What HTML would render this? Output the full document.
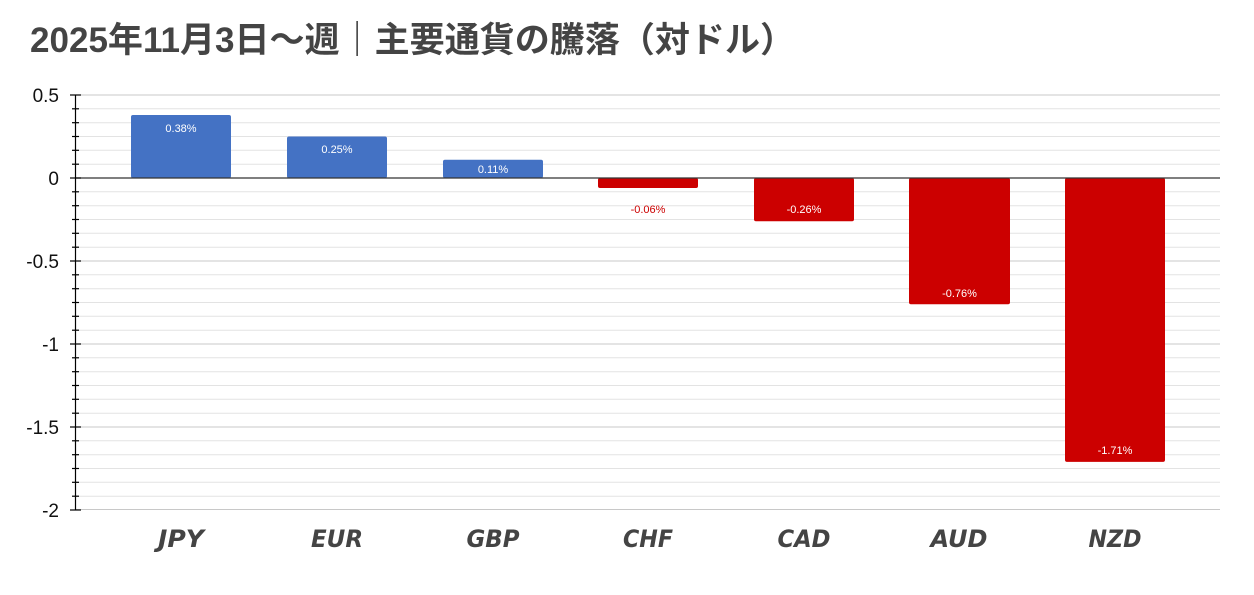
<!DOCTYPE html>
<html><head><meta charset="utf-8"><style>body{margin:0;background:#fff}svg{display:block}</style></head>
<body>
<svg width="1254" height="595" xmlns="http://www.w3.org/2000/svg" font-family="Liberation Sans, Noto Sans CJK JP, sans-serif">
<rect width="1254" height="595" fill="#fff"/>
<text x="30" y="52" font-size="35" font-weight="bold" fill="#444" textLength="765" lengthAdjust="spacingAndGlyphs" font-family="Liberation Sans, Noto Sans CJK JP, sans-serif">2025年11月3日～週｜主要通貨の騰落（対ドル）</text>
<g stroke="#e3e3e3" stroke-width="1">
<line x1="76" x2="1220" y1="108.8" y2="108.8"/><line x1="76" x2="1220" y1="122.7" y2="122.7"/><line x1="76" x2="1220" y1="136.5" y2="136.5"/><line x1="76" x2="1220" y1="150.3" y2="150.3"/><line x1="76" x2="1220" y1="164.2" y2="164.2"/>
<line x1="76" x2="1220" y1="191.8" y2="191.8"/><line x1="76" x2="1220" y1="205.7" y2="205.7"/><line x1="76" x2="1220" y1="219.5" y2="219.5"/><line x1="76" x2="1220" y1="233.3" y2="233.3"/><line x1="76" x2="1220" y1="247.2" y2="247.2"/>
<line x1="76" x2="1220" y1="274.8" y2="274.8"/><line x1="76" x2="1220" y1="288.7" y2="288.7"/><line x1="76" x2="1220" y1="302.5" y2="302.5"/><line x1="76" x2="1220" y1="316.3" y2="316.3"/><line x1="76" x2="1220" y1="330.2" y2="330.2"/>
<line x1="76" x2="1220" y1="357.8" y2="357.8"/><line x1="76" x2="1220" y1="371.7" y2="371.7"/><line x1="76" x2="1220" y1="385.5" y2="385.5"/><line x1="76" x2="1220" y1="399.3" y2="399.3"/><line x1="76" x2="1220" y1="413.2" y2="413.2"/>
<line x1="76" x2="1220" y1="440.8" y2="440.8"/><line x1="76" x2="1220" y1="454.7" y2="454.7"/><line x1="76" x2="1220" y1="468.5" y2="468.5"/><line x1="76" x2="1220" y1="482.3" y2="482.3"/><line x1="76" x2="1220" y1="496.2" y2="496.2"/>
</g>
<g stroke="#c8c8c8" stroke-width="1">
<line x1="76" x2="1220" y1="95" y2="95"/><line x1="76" x2="1220" y1="261" y2="261"/><line x1="76" x2="1220" y1="344" y2="344"/><line x1="76" x2="1220" y1="427" y2="427"/><line x1="76" x2="1220" y1="509.5" y2="509.5"/>
</g>
<g>
<rect x="131" y="115" width="100" height="63" rx="2" fill="#4472c4"/>
<rect x="287" y="136.5" width="100" height="41.5" rx="2" fill="#4472c4"/>
<rect x="443" y="159.7" width="100" height="18.3" rx="2" fill="#4472c4"/>
<rect x="598" y="178" width="100" height="10" rx="2" fill="#cc0000"/>
<rect x="754" y="178" width="100" height="43.2" rx="2" fill="#cc0000"/>
<rect x="909" y="178" width="101" height="126.2" rx="2" fill="#cc0000"/>
<rect x="1065" y="178" width="100" height="283.9" rx="2" fill="#cc0000"/>
</g>
<line x1="75" x2="1220" y1="178" y2="178" stroke="#333" stroke-width="1.2"/>
<line x1="75.5" x2="75.5" y1="95" y2="510" stroke="#000" stroke-width="1.2"/>
<g stroke="#000" stroke-width="1.2">
<line x1="70" x2="81" y1="95" y2="95"/><line x1="70" x2="81" y1="178" y2="178"/><line x1="70" x2="81" y1="261" y2="261"/><line x1="70" x2="81" y1="344" y2="344"/><line x1="70" x2="81" y1="427" y2="427"/><line x1="70" x2="81" y1="510" y2="510"/>
<line x1="72" x2="79" y1="108.8" y2="108.8"/><line x1="72" x2="79" y1="122.7" y2="122.7"/><line x1="72" x2="79" y1="136.5" y2="136.5"/><line x1="72" x2="79" y1="150.3" y2="150.3"/><line x1="72" x2="79" y1="164.2" y2="164.2"/>
<line x1="72" x2="79" y1="191.8" y2="191.8"/><line x1="72" x2="79" y1="205.7" y2="205.7"/><line x1="72" x2="79" y1="219.5" y2="219.5"/><line x1="72" x2="79" y1="233.3" y2="233.3"/><line x1="72" x2="79" y1="247.2" y2="247.2"/>
<line x1="72" x2="79" y1="274.8" y2="274.8"/><line x1="72" x2="79" y1="288.7" y2="288.7"/><line x1="72" x2="79" y1="302.5" y2="302.5"/><line x1="72" x2="79" y1="316.3" y2="316.3"/><line x1="72" x2="79" y1="330.2" y2="330.2"/>
<line x1="72" x2="79" y1="357.8" y2="357.8"/><line x1="72" x2="79" y1="371.7" y2="371.7"/><line x1="72" x2="79" y1="385.5" y2="385.5"/><line x1="72" x2="79" y1="399.3" y2="399.3"/><line x1="72" x2="79" y1="413.2" y2="413.2"/>
<line x1="72" x2="79" y1="440.8" y2="440.8"/><line x1="72" x2="79" y1="454.7" y2="454.7"/><line x1="72" x2="79" y1="468.5" y2="468.5"/><line x1="72" x2="79" y1="482.3" y2="482.3"/><line x1="72" x2="79" y1="496.2" y2="496.2"/>
</g>
<g font-size="19" fill="#111" text-anchor="end">
<text x="59" y="102">0.5</text><text x="59" y="185">0</text><text x="59" y="268">-0.5</text><text x="59" y="351">-1</text><text x="59" y="434">-1.5</text><text x="59" y="517">-2</text>
</g>
<g font-size="11" text-anchor="middle" fill="#fff">
<text x="181" y="132">0.38%</text><text x="337" y="153">0.25%</text><text x="493" y="173">0.11%</text>
<text x="648" y="213" fill="#cc0000">-0.06%</text>
<text x="804" y="213">-0.26%</text><text x="959.5" y="297">-0.76%</text><text x="1115" y="454">-1.71%</text>
</g>
<g font-size="24" font-weight="bold" font-style="italic" fill="#444" text-anchor="middle" font-family="DejaVu Sans, sans-serif">
<text x="181" y="547" textLength="46" lengthAdjust="spacingAndGlyphs">JPY</text>
<text x="337" y="547" textLength="52" lengthAdjust="spacingAndGlyphs">EUR</text>
<text x="493" y="547" textLength="53" lengthAdjust="spacingAndGlyphs">GBP</text>
<text x="648" y="547" textLength="50" lengthAdjust="spacingAndGlyphs">CHF</text>
<text x="804" y="547" textLength="53" lengthAdjust="spacingAndGlyphs">CAD</text>
<text x="959" y="547" textLength="57" lengthAdjust="spacingAndGlyphs">AUD</text>
<text x="1115" y="547" textLength="53" lengthAdjust="spacingAndGlyphs">NZD</text>
</g>
</svg>
</body></html>
